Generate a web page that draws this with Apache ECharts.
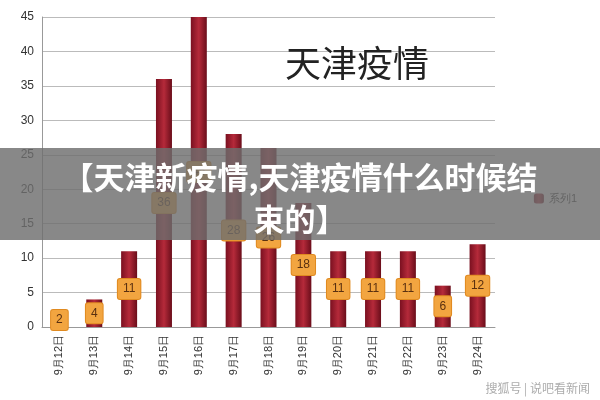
<!DOCTYPE html>
<html><head><meta charset="utf-8">
<script src="https://cdn.jsdelivr.net/npm/echarts@6/dist/echarts.min.js"></script>
<style>html,body{margin:0;padding:0;background:#fff}#c{width:600px;height:400px}</style>
</head><body><div id="c"></div>
<script>
const categories=['9月12日','9月13日','9月14日','9月15日','9月16日','9月17日','9月18日','9月19日','9月20日','9月21日','9月22日','9月23日','9月24日'];
const values=[2,4,11,36,45,28,26,18,11,11,11,6,12];
const yTicks=[0,5,10,15,20,25,30,35,40,45];
const chart=echarts.init(document.getElementById('c'));
chart.setOption({
  animation:false,
  grid:{left:42,right:105,top:17,bottom:73},
  legend:{data:['系列1'],right:18,top:188,orient:'vertical',textStyle:{fontSize:11,color:'#333'},itemWidth:10,itemHeight:10},
  xAxis:{type:'category',data:categories,axisLabel:{rotate:90,color:'#333',fontSize:11,interval:0},
    axisLine:{lineStyle:{color:'#999'}},axisTick:{show:false}},
  yAxis:{type:'value',min:0,max:45,interval:5,axisLabel:{color:'#333',fontSize:12},
    splitLine:{lineStyle:{color:'#bbb'}},axisLine:{show:true,lineStyle:{color:'#999'}}},
  series:[{name:'系列1',type:'bar',data:values,barWidth:16,
    itemStyle:{color:new echarts.graphic.LinearGradient(0,0,1,0,[{offset:0,color:'#7a1020'},{offset:0.5,color:'#b52a3a'},{offset:1,color:'#6a0d1a'}])},
    label:{show:true,position:'inside',color:'#5a3010',fontSize:12,backgroundColor:'#f2a540',borderColor:'#e08a20',borderWidth:1,padding:[4,5],borderRadius:2}}],
  graphic:[
    {type:'text',left:285,top:45,z:1,style:{text:'天津疫情',font:'36px "Noto Sans CJK SC"',fill:'#222'}},
    {type:'rect',z:100,shape:{x:0,y:148,width:600,height:92},style:{fill:'rgba(110,110,110,0.82)'}},
    {type:'text',z:101,left:'center',top:156,style:{text:'【天津新疫情,天津疫情什么时候结\n束的】',font:'bold 31px "Noto Sans CJK SC"',fill:'#fff',textAlign:'center',lineHeight:42}},
    {type:'text',z:101,right:10,bottom:6,style:{text:'搜狐号 | 说吧看新闻',font:'12px "Noto Sans CJK SC"',fill:'rgba(150,150,150,0.8)'}}
  ]
});
</script></body></html>
